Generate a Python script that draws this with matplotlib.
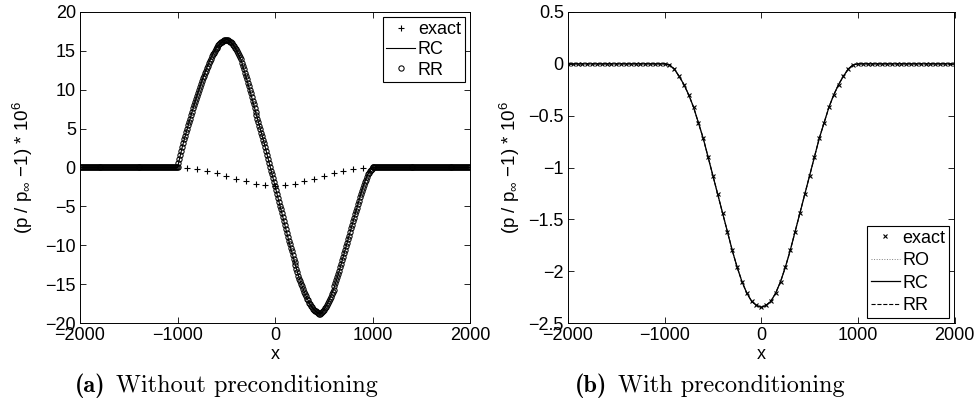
import numpy as np
import matplotlib
matplotlib.use("Agg")
import matplotlib.pyplot as plt
from matplotlib.ticker import FuncFormatter

plt.rcParams['font.family'] = ['Liberation Sans', 'DejaVu Sans']
plt.rcParams['mathtext.fontset'] = 'custom'
plt.rcParams['mathtext.rm'] = 'Liberation Sans'
plt.rcParams['mathtext.it'] = 'Liberation Sans:italic'
plt.rcParams['mathtext.bf'] = 'Liberation Sans:bold'

# (a) numerical solution, grid step 10 from -2000 to 2000
x_num_a = np.arange(-2000, 2001, 10)
# values between x=-1000 and x=1000 (step 10), zero outside
rr_core_a = [
    0.0, 0.55, 1.1, 1.6, 2.15,
    2.7, 3.2, 3.65, 4.1, 4.55,
    5.0, 5.45, 5.9, 6.3, 6.75,
    7.2, 7.6, 8.0, 8.4, 8.8,
    9.2, 9.6, 9.95, 10.35, 10.7,
    11.1, 11.45, 11.8, 12.1, 12.45,
    12.8, 13.1, 13.4, 13.7, 14.0,
    14.3, 14.55, 14.75, 15.0, 15.2,
    15.4, 15.55, 15.7, 15.85, 16.0,
    16.1, 16.2, 16.3, 16.35, 16.4,
    16.45, 16.45, 16.4, 16.3, 16.2,
    16.1, 15.95, 15.8, 15.6, 15.4,
    15.2, 14.95, 14.7, 14.45, 14.2,
    13.9, 13.5, 13.05, 12.65, 12.2,
    11.8, 11.35, 10.9, 10.45, 10.0,
    9.6, 9.1, 8.6, 8.15, 7.65,
    7.2, 6.75, 6.3, 5.85, 5.4,
    5.0, 4.5, 4.05, 3.55, 3.1,
    2.6, 2.1, 1.6, 1.1, 0.6,
    0.1, -0.4, -0.9, -1.4, -1.9,
    -2.4, -2.9, -3.4, -3.9, -4.4,
    -4.9, -5.4, -5.9, -6.4, -6.9,
    -7.4, -7.9, -8.4, -8.9, -9.4,
    -9.9, -10.35, -10.8, -11.3, -11.75,
    -12.2, -12.6, -13.05, -13.45, -13.9,
    -14.3, -14.65, -15.0, -15.3, -15.65,
    -16.0, -16.3, -16.55, -16.85, -17.1,
    -17.4, -17.6, -17.8, -17.95, -18.15,
    -18.3, -18.4, -18.5, -18.6, -18.7,
    -18.8, -18.8, -18.75, -18.6, -18.45,
    -18.3, -18.1, -17.9, -17.7, -17.45,
    -17.2, -16.9, -16.6, -16.3, -16.0,
    -15.7, -15.3, -14.9, -14.5, -14.1,
    -13.7, -13.25, -12.8, -12.4, -11.95,
    -11.5, -11.05, -10.6, -10.1, -9.65,
    -9.2, -8.75, -8.3, -7.8, -7.35,
    -6.9, -6.45, -6.0, -5.6, -5.15,
    -4.7, -4.3, -3.85, -3.45, -3.0,
    -2.6, -2.25, -1.9, -1.6, -1.25,
    -0.9, -0.7, -0.5, -0.35, -0.15,
    0.0,
]
rr_a = [0.0] * 100 + rr_core_a + [0.0] * 100
rc_a = rr_a

# (a) exact solution, step 100
x_exact_a = np.arange(-900, 901, 100)
exact_a = [-0.05, -0.20, -0.42, -0.72, -1.08, -1.44, -1.80, -2.10, -2.29, -2.35,
           -2.29, -2.10, -1.80, -1.44, -1.08, -0.72, -0.42, -0.20, -0.05]

# (b) exact and numerical solutions, step 50
x_b = np.arange(-2000, 2001, 50)
exact_core_b = [0.0, -0.01, -0.05, -0.12, -0.20, -0.30, -0.42, -0.57, -0.72, -0.90,
                -1.08, -1.26, -1.44, -1.62, -1.80, -1.96, -2.10, -2.21, -2.29, -2.33,
                -2.35,
                -2.33, -2.29, -2.21, -2.10, -1.96, -1.80, -1.62, -1.44, -1.26, -1.08,
                -0.90, -0.72, -0.57, -0.42, -0.30, -0.20, -0.12, -0.05, -0.01, 0.0]
exact_b = [0.0] * 20 + exact_core_b + [0.0] * 20
ro_b = exact_b
rc_b = exact_b
rr_b = exact_b

W, H = 975, 407
fig = plt.figure(figsize=(W / 100, H / 100), dpi=100)

ax1 = fig.add_axes([80 / W, 1 - 323 / H, 390 / W, 311 / H])
ax2 = fig.add_axes([568 / W, 1 - 323 / H, 386.5 / W, 311 / H])

fmt = FuncFormatter(lambda v, p: ('%g' % v).replace('-', '\u2212'))

ax1.plot(x_exact_a, exact_a, 'k+', ms=5, mew=0.8, label='exact')
ax1.plot(x_num_a, rc_a, 'k-', lw=0.8, label='RC')
ax1.plot(x_num_a, rr_a, 'ko', ms=3.8, mfc='none', mew=0.75, label='RR')
ax1.set_xlim(-2000, 2000)
ax1.set_ylim(-20, 20)
ax1.set_yticks(np.arange(-20, 21, 5))

ax2.plot(x_b, exact_b, 'kx', ms=3.4, mew=0.8, label='exact')
ax2.plot(x_b, ro_b, ':', color='0.5', lw=0.7, label='RO')
ax2.plot(x_b, rc_b, 'k-', lw=0.9, label='RC')
ax2.plot(x_b, rr_b, 'k--', lw=0.8, label='RR')
ax2.set_xlim(-2000, 2000)
ax2.set_ylim(-2.5, 0.5)
ax2.set_yticks(np.arange(-2.5, 0.51, 0.5))

ylab = r'(p / p$_\infty$ $-$1) * 10$^6$'
for ax, lx in [(ax1, -0.115), (ax2, -0.12)]:
    ax.set_xticks([-2000, -1000, 0, 1000, 2000])
    ax.xaxis.set_major_formatter(fmt)
    ax.yaxis.set_major_formatter(fmt)
    ax.tick_params(direction='in', top=True, right=True, length=4, width=0.6,
                   labelsize=13, pad=3)
    for s in ax.spines.values():
        s.set_linewidth(0.7)
    ax.set_xlabel('x', fontsize=13, labelpad=1)
    ax.set_ylabel(ylab, fontsize=13.5)
    ax.yaxis.set_label_coords(lx, 0.5)

leg_kw = dict(fancybox=False, edgecolor='k', framealpha=1, fontsize=13,
              numpoints=1, handlelength=1.6, handletextpad=0.15,
              borderpad=0.2, borderaxespad=0.3)
l1 = ax1.legend(loc='upper right', labelspacing=0.18, **leg_kw)
l2 = ax2.legend(loc='lower right', labelspacing=0.3, **leg_kw)
for l in (l1, l2):
    l.get_frame().set_linewidth(0.8)

# captions
base = 1 - 392 / H
cap = 17.5
fig.text(75 / W, base, '(a)', fontfamily='cmb10', fontsize=cap, va='baseline')
fig.text(116.5 / W, base, 'Without preconditioning', fontfamily='cmr10',
         fontsize=cap, va='baseline')
fig.text(575 / W, base, '(b)', fontfamily='cmb10', fontsize=cap, va='baseline')
fig.text(618 / W, base, 'With preconditioning', fontfamily='cmr10',
         fontsize=cap, va='baseline')

fig.savefig('out.png', dpi=100)
